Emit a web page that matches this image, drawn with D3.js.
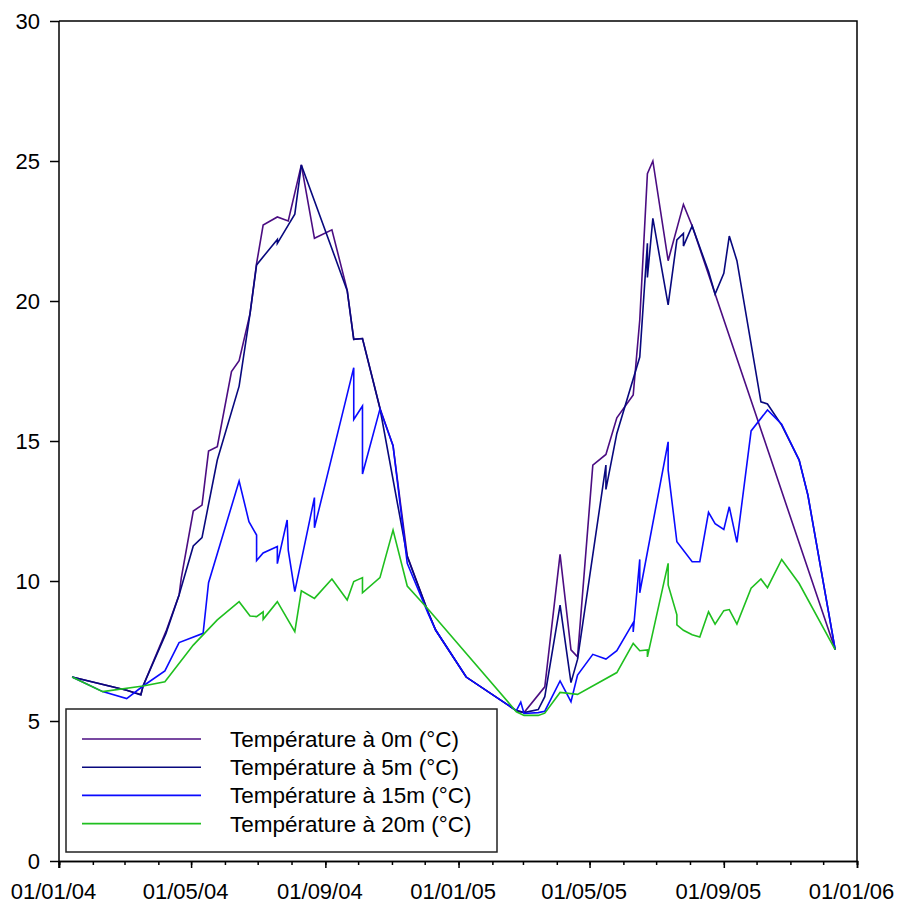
<!DOCTYPE html>
<html>
<head>
<meta charset="utf-8">
<script src="https://cdn.jsdelivr.net/npm/d3@7/dist/d3.min.js"></script>
<style>
  body { margin: 0; background: #fff; }
  svg { display: block; font-family: "Liberation Sans", Arial, sans-serif; }
</style>
</head>
<body>
<svg width="898" height="902"></svg>
<script>
// series: [date, temperature °C]
var temp0m = [
  ["2004-01-13", 6.57], ["2004-03-03", 6.1], ["2004-03-16", 5.95], ["2004-03-18", 6.25],
  ["2004-04-08", 8.2], ["2004-04-20", 9.5], ["2004-04-22", 10.1], ["2004-05-03", 12.5],
  ["2004-05-11", 12.71], ["2004-05-17", 14.64], ["2004-05-25", 14.8], ["2004-06-07", 17.48],
  ["2004-06-14", 17.87], ["2004-06-24", 19.55], ["2004-06-30", 21.34], ["2004-07-06", 22.71],
  ["2004-07-19", 23.0], ["2004-07-29", 22.86], ["2004-08-10", 24.86], ["2004-08-22", 22.24],
  ["2004-09-07", 22.54], ["2004-09-21", 20.39], ["2004-09-27", 18.63], ["2004-10-05", 18.66],
  ["2004-10-21", 16.17], ["2004-11-02", 14.83], ["2004-11-15", 10.9], ["2004-12-04", 8.9],
  ["2004-12-11", 8.25], ["2005-01-08", 6.57], ["2005-02-23", 5.37], ["2005-03-02", 5.3],
  ["2005-03-21", 6.22], ["2005-04-04", 10.95], ["2005-04-14", 7.54], ["2005-04-20", 7.29],
  ["2005-05-04", 14.14], ["2005-05-16", 14.52], ["2005-05-26", 15.83], ["2005-06-10", 16.64],
  ["2005-06-16", 19.32], ["2005-06-23", 24.55], ["2005-06-28", 25.0], ["2005-07-12", 21.44],
  ["2005-07-26", 23.45], ["2005-08-03", 22.68], ["2005-12-12", 7.55]
];
var temp5m = [
  ["2004-01-13", 6.57], ["2004-03-03", 6.1], ["2004-03-16", 5.93], ["2004-03-18", 6.25],
  ["2004-04-08", 8.13], ["2004-04-20", 9.5], ["2004-05-03", 11.25], ["2004-05-11", 11.55],
  ["2004-05-25", 14.32], ["2004-06-14", 16.96], ["2004-06-24", 19.55], ["2004-06-30", 21.29],
  ["2004-07-19", 22.2], ["2004-07-19", 22.06], ["2004-07-29", 22.71], ["2004-08-04", 23.1],
  ["2004-08-10", 24.86], ["2004-09-21", 20.37], ["2004-09-27", 18.63], ["2004-10-05", 18.66],
  ["2004-10-21", 16.17], ["2004-11-15", 10.87], ["2004-12-04", 8.9], ["2004-12-11", 8.25],
  ["2005-01-08", 6.57], ["2005-02-23", 5.37], ["2005-03-02", 5.3], ["2005-03-15", 5.41],
  ["2005-03-21", 5.87], ["2005-04-04", 9.14], ["2005-04-14", 6.37], ["2005-04-20", 7.2],
  ["2005-05-16", 14.14], ["2005-05-16", 13.27], ["2005-05-26", 15.27], ["2005-06-16", 18.0],
  ["2005-06-23", 22.06], ["2005-06-23", 20.84], ["2005-06-28", 22.95], ["2005-07-12", 19.86],
  ["2005-07-20", 22.18], ["2005-07-26", 22.41], ["2005-07-26", 21.96], ["2005-08-03", 22.68],
  ["2005-08-18", 21.05], ["2005-08-24", 20.25], ["2005-09-01", 20.99], ["2005-09-06", 22.32],
  ["2005-09-13", 21.44], ["2005-10-05", 16.4], ["2005-10-11", 16.32], ["2005-10-24", 15.57],
  ["2005-11-09", 14.32], ["2005-11-17", 13.07], ["2005-12-12", 7.55]
];
var temp15m = [
  ["2004-01-13", 6.57], ["2004-02-10", 6.05], ["2004-03-03", 5.8], ["2004-03-18", 6.25],
  ["2004-04-07", 6.79], ["2004-04-20", 7.8], ["2004-05-12", 8.13], ["2004-05-17", 9.94],
  ["2004-06-14", 13.57], ["2004-06-23", 12.12], ["2004-06-30", 11.64], ["2004-06-30", 10.73],
  ["2004-07-06", 11.0], ["2004-07-19", 11.23], ["2004-07-19", 10.62], ["2004-07-28", 12.18],
  ["2004-07-29", 11.1], ["2004-08-04", 9.62], ["2004-08-22", 12.98], ["2004-08-22", 11.9],
  ["2004-09-27", 17.62], ["2004-09-27", 15.77], ["2004-10-05", 16.25], ["2004-10-05", 13.82],
  ["2004-10-21", 16.14], ["2004-11-02", 14.83], ["2004-11-15", 10.63], ["2004-12-04", 8.85],
  ["2004-12-11", 8.25], ["2005-01-08", 6.57], ["2005-02-23", 5.37], ["2005-02-27", 5.67],
  ["2005-03-02", 5.27], ["2005-03-15", 5.3], ["2005-03-21", 5.35], ["2005-04-04", 6.43],
  ["2005-04-14", 5.69], ["2005-04-20", 6.64], ["2005-05-04", 7.38], ["2005-05-16", 7.21],
  ["2005-05-26", 7.51], ["2005-06-10", 8.51], ["2005-06-10", 8.18], ["2005-06-16", 10.77],
  ["2005-06-16", 9.58], ["2005-07-12", 14.97], ["2005-07-12", 13.96], ["2005-07-20", 11.4],
  ["2005-08-03", 10.69], ["2005-08-10", 10.69], ["2005-08-18", 12.45], ["2005-08-24", 12.05],
  ["2005-09-01", 11.84], ["2005-09-06", 12.65], ["2005-09-13", 11.38], ["2005-09-26", 15.36],
  ["2005-10-11", 16.11], ["2005-10-24", 15.6], ["2005-11-09", 14.32], ["2005-11-17", 13.07],
  ["2005-12-12", 7.55]
];
var temp20m = [
  ["2004-01-13", 6.57], ["2004-02-10", 6.05], ["2004-03-18", 6.25], ["2004-04-07", 6.4],
  ["2004-05-03", 7.71], ["2004-05-25", 8.61], ["2004-06-14", 9.26], ["2004-06-24", 8.75],
  ["2004-06-30", 8.73], ["2004-07-06", 8.9], ["2004-07-06", 8.63], ["2004-07-19", 9.26],
  ["2004-08-04", 8.19], ["2004-08-10", 9.65], ["2004-08-22", 9.38], ["2004-09-07", 10.07],
  ["2004-09-21", 9.32], ["2004-09-27", 9.98], ["2004-10-05", 10.12], ["2004-10-05", 9.58],
  ["2004-10-21", 10.12], ["2004-11-02", 11.82], ["2004-11-15", 9.82], ["2004-12-04", 9.0],
  ["2005-02-23", 5.33], ["2005-03-02", 5.2], ["2005-03-15", 5.2], ["2005-03-21", 5.28],
  ["2005-04-04", 6.02], ["2005-04-20", 5.95], ["2005-05-26", 6.73], ["2005-06-10", 7.77],
  ["2005-06-16", 7.51], ["2005-06-23", 7.54], ["2005-06-23", 7.29], ["2005-07-12", 10.63],
  ["2005-07-12", 9.86], ["2005-07-20", 8.79], ["2005-07-20", 8.43], ["2005-07-26", 8.24],
  ["2005-08-03", 8.08], ["2005-08-10", 8.0], ["2005-08-18", 8.9], ["2005-08-24", 8.46],
  ["2005-09-01", 8.94], ["2005-09-06", 8.98], ["2005-09-13", 8.46], ["2005-09-26", 9.74],
  ["2005-10-05", 10.07], ["2005-10-11", 9.76], ["2005-10-24", 10.77], ["2005-11-09", 9.91],
  ["2005-12-12", 7.55]
];

var seriesNames = ["Température à 0m (°C)", "Température à 5m (°C)",
                   "Température à 15m (°C)", "Température à 20m (°C)"];
var seriesData = [temp0m, temp5m, temp15m, temp20m];
var seriesColors = ["#4b0d82", "#08087e", "#0a0aff", "#1fbf1f"];
var yTicks = [0, 5, 10, 15, 20, 25, 30];
var xStart = "2004-01-01", xEnd = "2006-01-01";

var plotLeft = 59, plotRight = 857, plotTop = 21, plotBottom = 861;
var parseDate = d3.utcParse("%Y-%m-%d");

var xScale = d3.scaleUtc().domain([parseDate(xStart), parseDate(xEnd)]).range([plotLeft, plotRight]);
var yScale = d3.scaleLinear().domain([0, 30]).range([plotBottom, plotTop]);

var svg = d3.select("svg");

// plot frame (top and right edges)
svg.append("path")
  .attr("d", "M" + plotLeft + "," + plotTop + "H" + plotRight + "V" + plotBottom)
  .attr("fill", "none")
  .attr("stroke", "#000")
  .attr("stroke-width", 1.5);

// x axis: minor ticks every month, labelled ticks every 4 months
var xMinor = d3.axisBottom(xScale)
  .ticks(d3.utcMonth.every(1))
  .tickSize(4)
  .tickFormat("");
var xMajor = d3.axisBottom(xScale)
  .ticks(d3.utcMonth.every(4))
  .tickSize(7)
  .tickPadding(15)
  .tickFormat(d3.utcFormat("%d/%m/%y"));

var gxMinor = svg.append("g")
  .attr("transform", "translate(0," + plotBottom + ")")
  .call(xMinor);
var gx = svg.append("g")
  .attr("transform", "translate(0," + plotBottom + ")")
  .call(xMajor);

var yAxis = d3.axisLeft(yScale).tickValues(yTicks).tickSize(9).tickPadding(10);
var gy = svg.append("g")
  .attr("transform", "translate(" + plotLeft + ",0)")
  .call(yAxis);

[gxMinor, gx, gy].forEach(function(g) {
  g.selectAll(".domain").attr("stroke", "#000").attr("stroke-width", 1.5);
  g.selectAll(".tick line").attr("stroke", "#000").attr("stroke-width", 1.5);
  g.selectAll("text")
    .attr("fill", "#000")
    .style("font-size", "22px")
    .style("font-family", "'Liberation Sans', Arial, sans-serif");
});
gx.selectAll("text").attr("dx", -6);
// y axis runs down to the tick length
gy.select(".domain").attr("d", "M0," + plotTop + "V" + (plotBottom + 7));

// lines
var line = d3.line()
  .x(function(d) { return xScale(parseDate(d[0])); })
  .y(function(d) { return yScale(d[1]); });

seriesData.forEach(function(data, i) {
  svg.append("path")
    .datum(data)
    .attr("d", line)
    .attr("fill", "none")
    .attr("stroke", seriesColors[i])
    .attr("stroke-width", 1.6)
    .attr("stroke-linejoin", "miter");
});

// legend
var legend = svg.append("g").attr("transform", "translate(66,709)");
legend.append("rect")
  .attr("width", 431)
  .attr("height", 143)
  .attr("fill", "#fff")
  .attr("stroke", "#222")
  .attr("stroke-width", 1.5);

seriesNames.forEach(function(name, i) {
  var y = 30 + i * 28.2;
  legend.append("line")
    .attr("x1", 16).attr("x2", 135)
    .attr("y1", y).attr("y2", y)
    .attr("stroke", seriesColors[i])
    .attr("stroke-width", 1.6);
  legend.append("text")
    .attr("x", 164)
    .attr("y", y + 8)
    .style("font-size", "22.5px")
    .text(name);
});
</script>
</body>
</html>
